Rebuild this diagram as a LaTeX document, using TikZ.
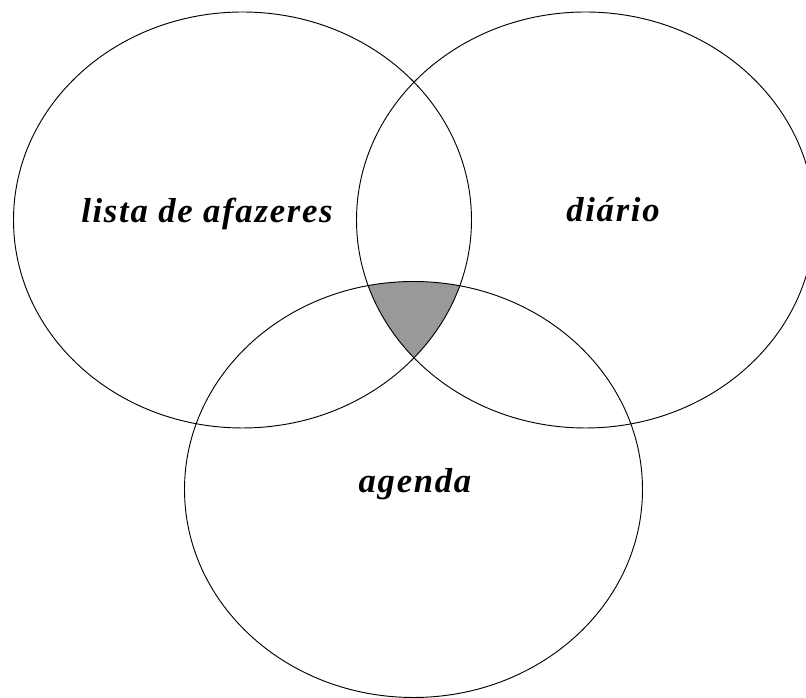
\documentclass[tikz,border=0pt]{standalone}
\usepackage{fontspec}
\setmainfont{Liberation Serif}
\usepackage{tikz}

\begin{document}
\begin{tikzpicture}[x=0.75pt, y=0.75pt, line width=0.7pt,
   rotulo/.style={anchor=base, font=\fontsize{26}{30}\selectfont\bfseries\itshape\addfontfeatures{LetterSpace=5}}]
   \useasboundingbox (0,0) rectangle (806,698);
   \coordinate (lista)  at (242.5,478);
   \coordinate (diario) at (585.5,478);
   \coordinate (agenda) at (413.5,208.5);

   % zona comum
   \begin{scope}
      \clip (lista) ellipse [x radius=229, y radius=208];
      \clip (diario) ellipse [x radius=229, y radius=208];
      \fill[black!40] (agenda) ellipse [x radius=229, y radius=208];
   \end{scope}

   \draw (lista)  ellipse [x radius=229, y radius=208];
   \draw (diario) ellipse [x radius=229, y radius=208];
   \draw (agenda) ellipse [x radius=229, y radius=208];

   \node[rotulo] (tlista)  at (207,475) {lista de afazeres};
   \node[rotulo] (tdiario) at (613,476) {diário};
   \node[rotulo] (tagenda) at (415,205) {agenda};
\end{tikzpicture}
\end{document}
